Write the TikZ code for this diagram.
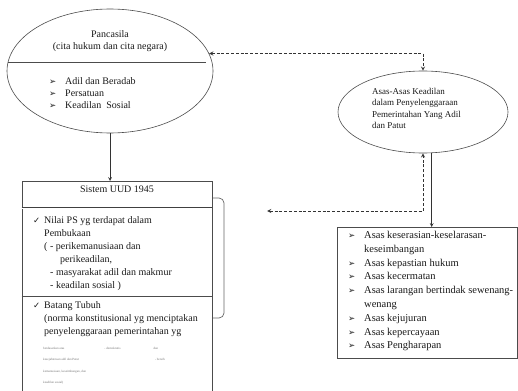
\documentclass[tikz,border=0pt]{standalone}
\usepackage{fontspec}
\setmainfont{Liberation Serif}
\newfontfamily\symfont{DejaVu Sans}
\usepackage{tikz}
\usetikzlibrary{shapes.geometric, positioning, calc}
\newcommand{\arrbul}{\makebox[16pt][l]{\symfont\fontsize{8.5}{8}\selectfont ➢}}
\newcommand{\chkmark}{\makebox[11pt][l]{\symfont\fontsize{8.5}{8}\selectfont ✓}}
\tikzstyle{oval} = [ellipse, draw=black!70, line width=0.6pt]
\tikzstyle{frame} = [rectangle, draw=black!70, line width=0.6pt]
\tikzstyle{lst} = [align=left, anchor=north west, inner sep=0pt, text=black!90, font=\fontsize{10}{13}\selectfont]
\tikzstyle{link} = [dash pattern=on 3pt off 1.8pt, line width=0.9pt, draw=black!80]

\begin{document}
\begin{tikzpicture}[x=1pt, y=-1pt]
		\path[use as bounding box, clip] (0,0) rectangle (518,390);
		% Pancasila
		\node (Pancasila)[oval, minimum width=206, minimum height=124] at (110,71){};
		\node (PancaTitle)[align=center, inner sep=0pt, text=black!90, font=\fontsize{10}{12}\selectfont] at (110,41){Pancasila\\(cita hukum dan cita negara)};
		\draw [draw=black!70, line width=0.6pt] ($(Pancasila.center)+(-102,-9)$) -- ($(Pancasila.center)+(96,-9)$);
		\node (PancaList)[lst, font=\fontsize{10}{12}\selectfont] at (49,77){\arrbul Adil dan Beradab\\ \arrbul Persatuan\\ \arrbul Keadilan\ \ Sosial};
		% Asas-asas
		\node (Asas)[oval, minimum width=170, minimum height=82] at (423,112){};
		\node (AsasTitle)[lst, font=\fontsize{9}{11.5}\selectfont] at (372,88){Asas-Asas Keadilan\\dalam Penyelenggaraan\\Pemerintahan Yang Adil\\dan Patut};
		\node (AsasBox)[frame, anchor=north west, minimum width=180, minimum height=131] at (337,227){};
		\node (AsasList)[lst, font=\fontsize{10.5}{13.8}\selectfont] at (348,231){\arrbul Asas keserasian-keselarasan-\\ \hspace*{16pt}keseimbangan\\ \arrbul Asas kepastian hukum\\ \arrbul Asas kecermatan\\ \arrbul Asas larangan bertindak sewenang-\\ \hspace*{16pt}wenang\\ \arrbul Asas kejujuran\\ \arrbul Asas kepercayaan\\ \arrbul Asas Pengharapan};
		% Sistem UUD 1945
		\node (Sistem)[frame, anchor=north, minimum width=190, minimum height=240] at (117,181){};
		\node (SistemTitle)[below = 5pt of Sistem.north, inner sep=0pt, text=black!90, font=\fontsize{10}{12}\selectfont]{Sistem UUD 1945};
		\draw [draw=black!75, double, double distance=0.7pt, line width=0.7pt] ($(Sistem.north west)+(0,27)$) -- ($(Sistem.north east)+(0,27)$);
		\draw [draw=black!70, line width=0.6pt] ($(Sistem.north west)+(0,115)$) -- ($(Sistem.north east)+(0,115)$);
		\node (Pembukaan)[lst] at (33,216){\chkmark Nilai PS yg terdapat dalam\\ \hspace*{11pt}Pembukaan\\ \hspace*{11pt}( - perikemanusiaan dan\\ \hspace*{27pt}perikeadilan,\\ \hspace*{17pt}- masyarakat adil dan makmur\\ \hspace*{17pt}- keadilan sosial )};
		\node (Batang)[lst] at (33,301){\chkmark Batang Tubuh\\ \hspace*{11pt}(norma konstitusional yg menciptakan\\ \hspace*{11pt}penyelenggaraan pemerintahan yg};
		\node (BatangMore)[lst, text=black!55, font=\fontsize{3.2}{11.5}\selectfont] at (43,347){berdasarkan atas\hspace*{40pt}- demokratis\hspace*{33pt}dan\\ kesejahteraan adil dan Patut\hspace*{76pt}- bersih\\ kemanusiaan, keseimbangan, dan\\ keadilan sosial)};
		\draw [draw=black!60, line width=0.7pt, rounded corners=5pt] (213,198) -- (224,198) -- (224,318) -- (213,318);
		% connectors
		\coordinate (SistemSide) at (267,211);
		\draw [-stealth, line width=0.7pt, draw=black!80] (Pancasila.south) -- (Pancasila.south |- Sistem.north);
		\draw [-stealth, line width=0.7pt, draw=black!80] (Asas.-78) -- (Asas.-78 |- AsasBox.north);
		\draw [link, stealth-stealth] (Pancasila.10) -| (Asas.north);
		\draw [link, stealth-stealth] (SistemSide) -| (Asas.south);
	\end{tikzpicture}
\end{document}
